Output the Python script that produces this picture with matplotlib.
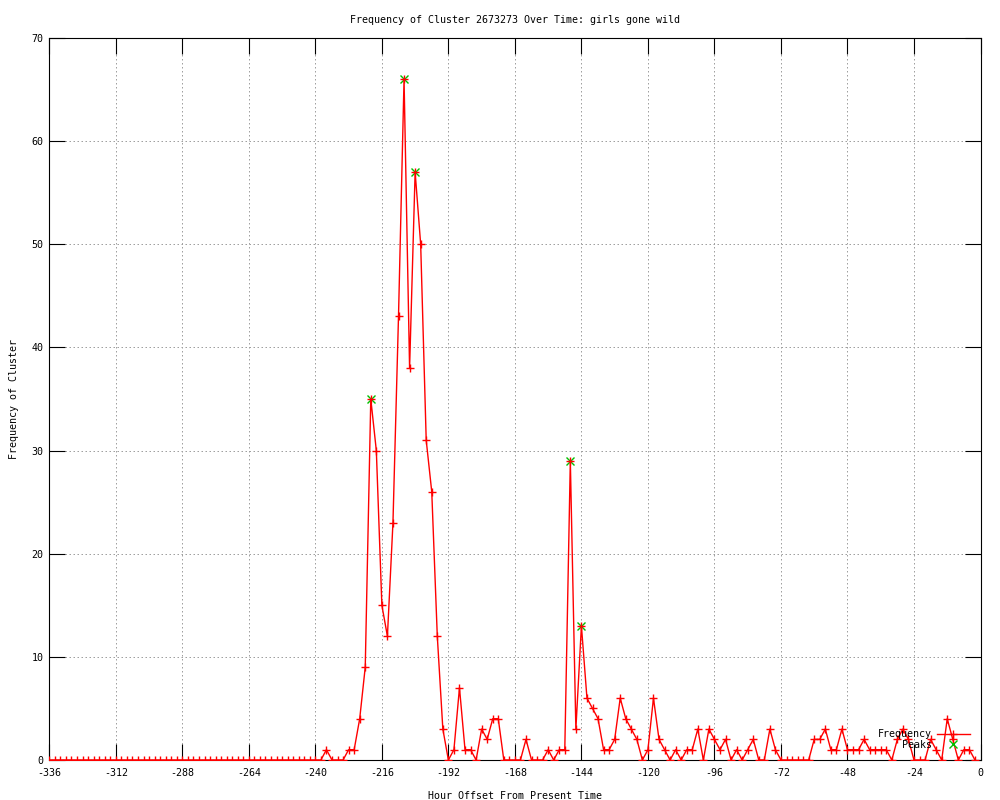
import matplotlib
matplotlib.use("Agg")
import matplotlib.pyplot as plt
import numpy as np

# hourly offsets (every 2 hours) and counts
hours = np.arange(-336, 0, 2)
counts = [
    # -336 .. -238
    0, 0, 0, 0, 0, 0, 0, 0, 0, 0,
    0, 0, 0, 0, 0, 0, 0, 0, 0, 0,
    0, 0, 0, 0, 0, 0, 0, 0, 0, 0,
    0, 0, 0, 0, 0, 0, 0, 0, 0, 0,
    0, 0, 0, 0, 0, 0, 0, 0, 0, 0,
    # -236 .. -190
    1, 0, 0, 0, 1, 1, 4, 9, 35, 30, 15, 12, 23, 43, 66, 38, 57, 50, 31, 26, 12, 3, 0, 1,
    # -188 .. -142
    7, 1, 1, 0, 3, 2, 4, 4, 0, 0, 0, 0, 2, 0, 0, 0, 1, 0, 1, 1, 29, 3, 13, 6,
    # -140 .. -94
    5, 4, 1, 1, 2, 6, 4, 3, 2, 0, 1, 6, 2, 1, 0, 1, 0, 1, 1, 3, 0, 3, 2, 1,
    # -92 .. -46
    2, 0, 1, 0, 1, 2, 0, 0, 3, 1, 0, 0, 0, 0, 0, 0, 2, 2, 3, 1, 1, 3, 1, 1,
    # -44 .. -2
    1, 2, 1, 1, 1, 1, 0, 2, 3, 2, 0, 0, 0, 2, 1, 0, 4, 2, 0, 1, 1, 0,
]
peak_hours = [-220, -208, -204, -148, -144]
peak_counts = [35, 66, 57, 29, 13]

xticks = list(range(-336, 1, 24))
yticks = list(range(0, 71, 10))

font = {"family": "DejaVu Sans Mono", "size": 7.2}

fig = plt.figure(figsize=(10, 8), dpi=100)
ax = fig.add_axes([0.0493, 0.05, 0.9312, 0.9025])

ax.plot(peak_hours, peak_counts, linestyle="none", marker="x", color="#00c000",
        markersize=5.5, mew=1, label="Peaks", zorder=2)
ax.plot(hours, counts, color="#ff0000", lw=1, marker="+", markersize=5.5, mew=1,
        label="Frequency", zorder=3)

ax.set_xlim(-336, 0)
ax.set_ylim(0, 70)
ax.set_xticks(xticks)
ax.set_yticks(yticks)
ax.set_xticklabels([str(t) for t in xticks], **font)
ax.set_yticklabels([str(t) for t in yticks], **font)

ax.tick_params(direction="in", length=11.5, width=0.8, top=True, right=True,
               color="black")
ax.tick_params(axis="x", pad=6)
ax.tick_params(axis="y", pad=4)
ax.grid(True, color="#a0a0a0", linestyle=(0, (1.5, 2.5)), linewidth=0.72)
ax.set_axisbelow(True)
for s in ax.spines.values():
    s.set_linewidth(0.8)

ax.set_title("Frequency of Cluster 2673273 Over Time: girls gone wild", pad=11, **font)
ax.set_xlabel("Hour Offset From Present Time", labelpad=9, **font)
ax.set_ylabel("Frequency of Cluster", labelpad=9, **font)

handles, labels = ax.get_legend_handles_labels()
leg = ax.legend(handles[::-1], labels[::-1], loc="lower right", bbox_to_anchor=(0.997, 0.003),
                frameon=False, markerfirst=False, handlelength=3.3, handletextpad=0.5,
                labelspacing=0.05, borderpad=0.3, prop=font)

fig.savefig("out.png", dpi=100)
